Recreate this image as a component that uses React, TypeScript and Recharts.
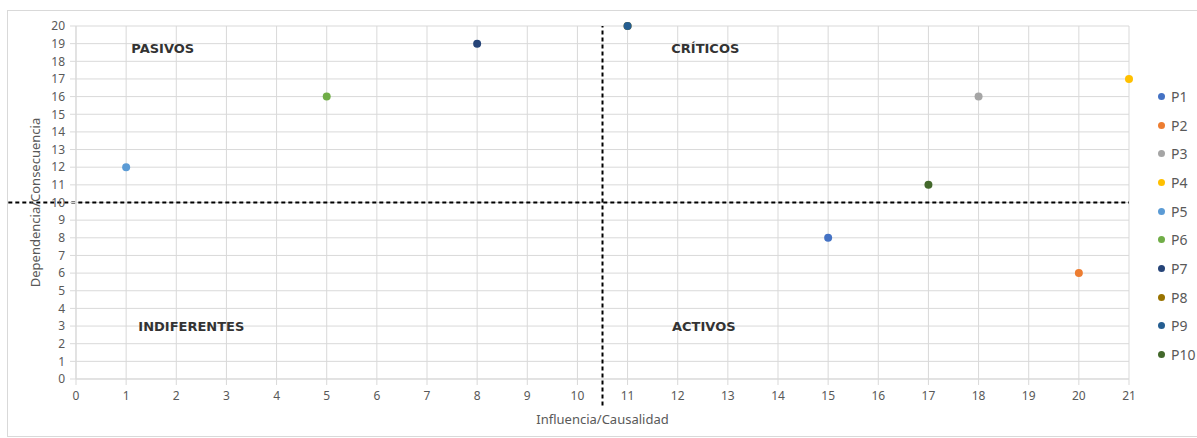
import React from "react";
import {
  ScatterChart,
  Scatter,
  XAxis,
  YAxis,
  CartesianGrid,
  ReferenceLine,
  ReferenceDot,
} from "recharts";

const seriesNames = ["P1", "P2", "P3", "P4", "P5", "P6", "P7", "P8", "P9", "P10"];
const influencia = [15, 20, 18, 21, 1, 5, 8, 11, 11, 17];
const dependencia = [8, 6, 16, 17, 12, 16, 19, 20, 20, 11];
const seriesColors = [
  "#4472C4",
  "#ED7D31",
  "#A5A5A5",
  "#FFC000",
  "#5B9BD5",
  "#70AD47",
  "#264478",
  "#997300",
  "#255E91",
  "#43682B",
];

const xTicks = Array.from({ length: 22 }, (_, i) => i);
const yTicks = Array.from({ length: 21 }, (_, i) => i);

const quadrantLabels = ["PASIVOS", "CRÍTICOS", "INDIFERENTES", "ACTIVOS"];
const quadrantX = [1.73, 12.55, 2.3, 12.52];
const quadrantY = [18.7, 18.7, 2.95, 2.95];

const FONT = "'Noto Sans', sans-serif";
const TEXT = "#595959";
const GRID = "#d9d9d9";

const QuadrantLabel = ({ viewBox, value }: any) => {
  const { x, y } = viewBox;
  return (
    <text
      x={x}
      y={y}
      textAnchor="middle"
      dominantBaseline="central"
      fontFamily="'DejaVu Sans', sans-serif"
      fontSize={13}
      fontWeight={700}
      fill="#333"
    >
      {value}
    </text>
  );
};

export default function App() {
  return (
    <div style={{ position: "absolute", left: 0, top: 0, width: 1197, height: 438, background: "#fff" }}>
      <div
        style={{
          position: "absolute",
          left: 7,
          top: 10,
          width: 1195,
          height: 425,
          border: `1px solid ${GRID}`,
        }}
      />
      <ScatterChart
        width={1197}
        height={438}
        margin={{ top: 26, right: 68, bottom: 19, left: 36 }}
        style={{ position: "absolute", left: 0, top: 0, fontFamily: FONT }}
      >
        <CartesianGrid stroke={GRID} strokeWidth={1} />
        <XAxis
          type="number"
          dataKey="x"
          domain={[0, 21]}
          ticks={xTicks}
          interval={0}
          height={40}
          stroke={GRID}
          tickLine={{ stroke: GRID }}
          tickMargin={6}
          tick={{ fill: TEXT, fontSize: 12, fontFamily: FONT }}
          label={{
            value: "Influencia/Causalidad",
            position: "insideBottom",
            offset: -5,
            fill: TEXT,
            fontSize: 13,
            fontFamily: FONT,
          }}
        />
        <YAxis
          type="number"
          dataKey="y"
          domain={[0, 20]}
          ticks={yTicks}
          interval={0}
          width={40}
          stroke={GRID}
          tickLine={{ stroke: GRID }}
          tickMargin={5}
          tick={{ fill: TEXT, fontSize: 12, fontFamily: FONT }}
          label={{
            value: "Dependencia/Consecuencia",
            angle: -90,
            position: "insideLeft",
            offset: -1,
            style: { textAnchor: "middle" },
            fill: TEXT,
            fontSize: 13,
            fontFamily: FONT,
          }}
        />
        <ReferenceLine
          segment={[
            { x: 10.5, y: -1.5 },
            { x: 10.5, y: 20 },
          ]}
          ifOverflow="visible"
          stroke="#000"
          strokeWidth={2}
          strokeDasharray="4 3"
        />
        <ReferenceLine
          segment={[
            { x: -1.35, y: 10 },
            { x: 21, y: 10 },
          ]}
          ifOverflow="visible"
          stroke="#000"
          strokeWidth={2}
          strokeDasharray="4 3"
        />
        {seriesNames.map((name, i) => (
          <Scatter
            key={name}
            name={name}
            data={[{ x: influencia[i], y: dependencia[i] }]}
            fill={seriesColors[i]}
            isAnimationActive={false}
            shape={(props: any) => (
              <circle cx={props.cx} cy={props.cy} r={4} fill={seriesColors[i]} />
            )}
          />
        ))}
        {quadrantLabels.map((label, i) => (
          <ReferenceDot
            key={label}
            x={quadrantX[i]}
            y={quadrantY[i]}
            r={0}
            stroke="none"
            fill="none"
            label={<QuadrantLabel value={label} />}
          />
        ))}
      </ScatterChart>
      <div style={{ position: "absolute", left: 1158, top: 82, fontFamily: FONT }}>
        {seriesNames.map((name, i) => (
          <div key={name} style={{ display: "flex", alignItems: "center", height: 28.7 }}>
            <span
              style={{
                display: "inline-block",
                width: 7,
                height: 7,
                borderRadius: "50%",
                background: seriesColors[i],
                marginRight: 6,
              }}
            />
            <span style={{ fontSize: 14, color: TEXT }}>{name}</span>
          </div>
        ))}
      </div>
    </div>
  );
}
